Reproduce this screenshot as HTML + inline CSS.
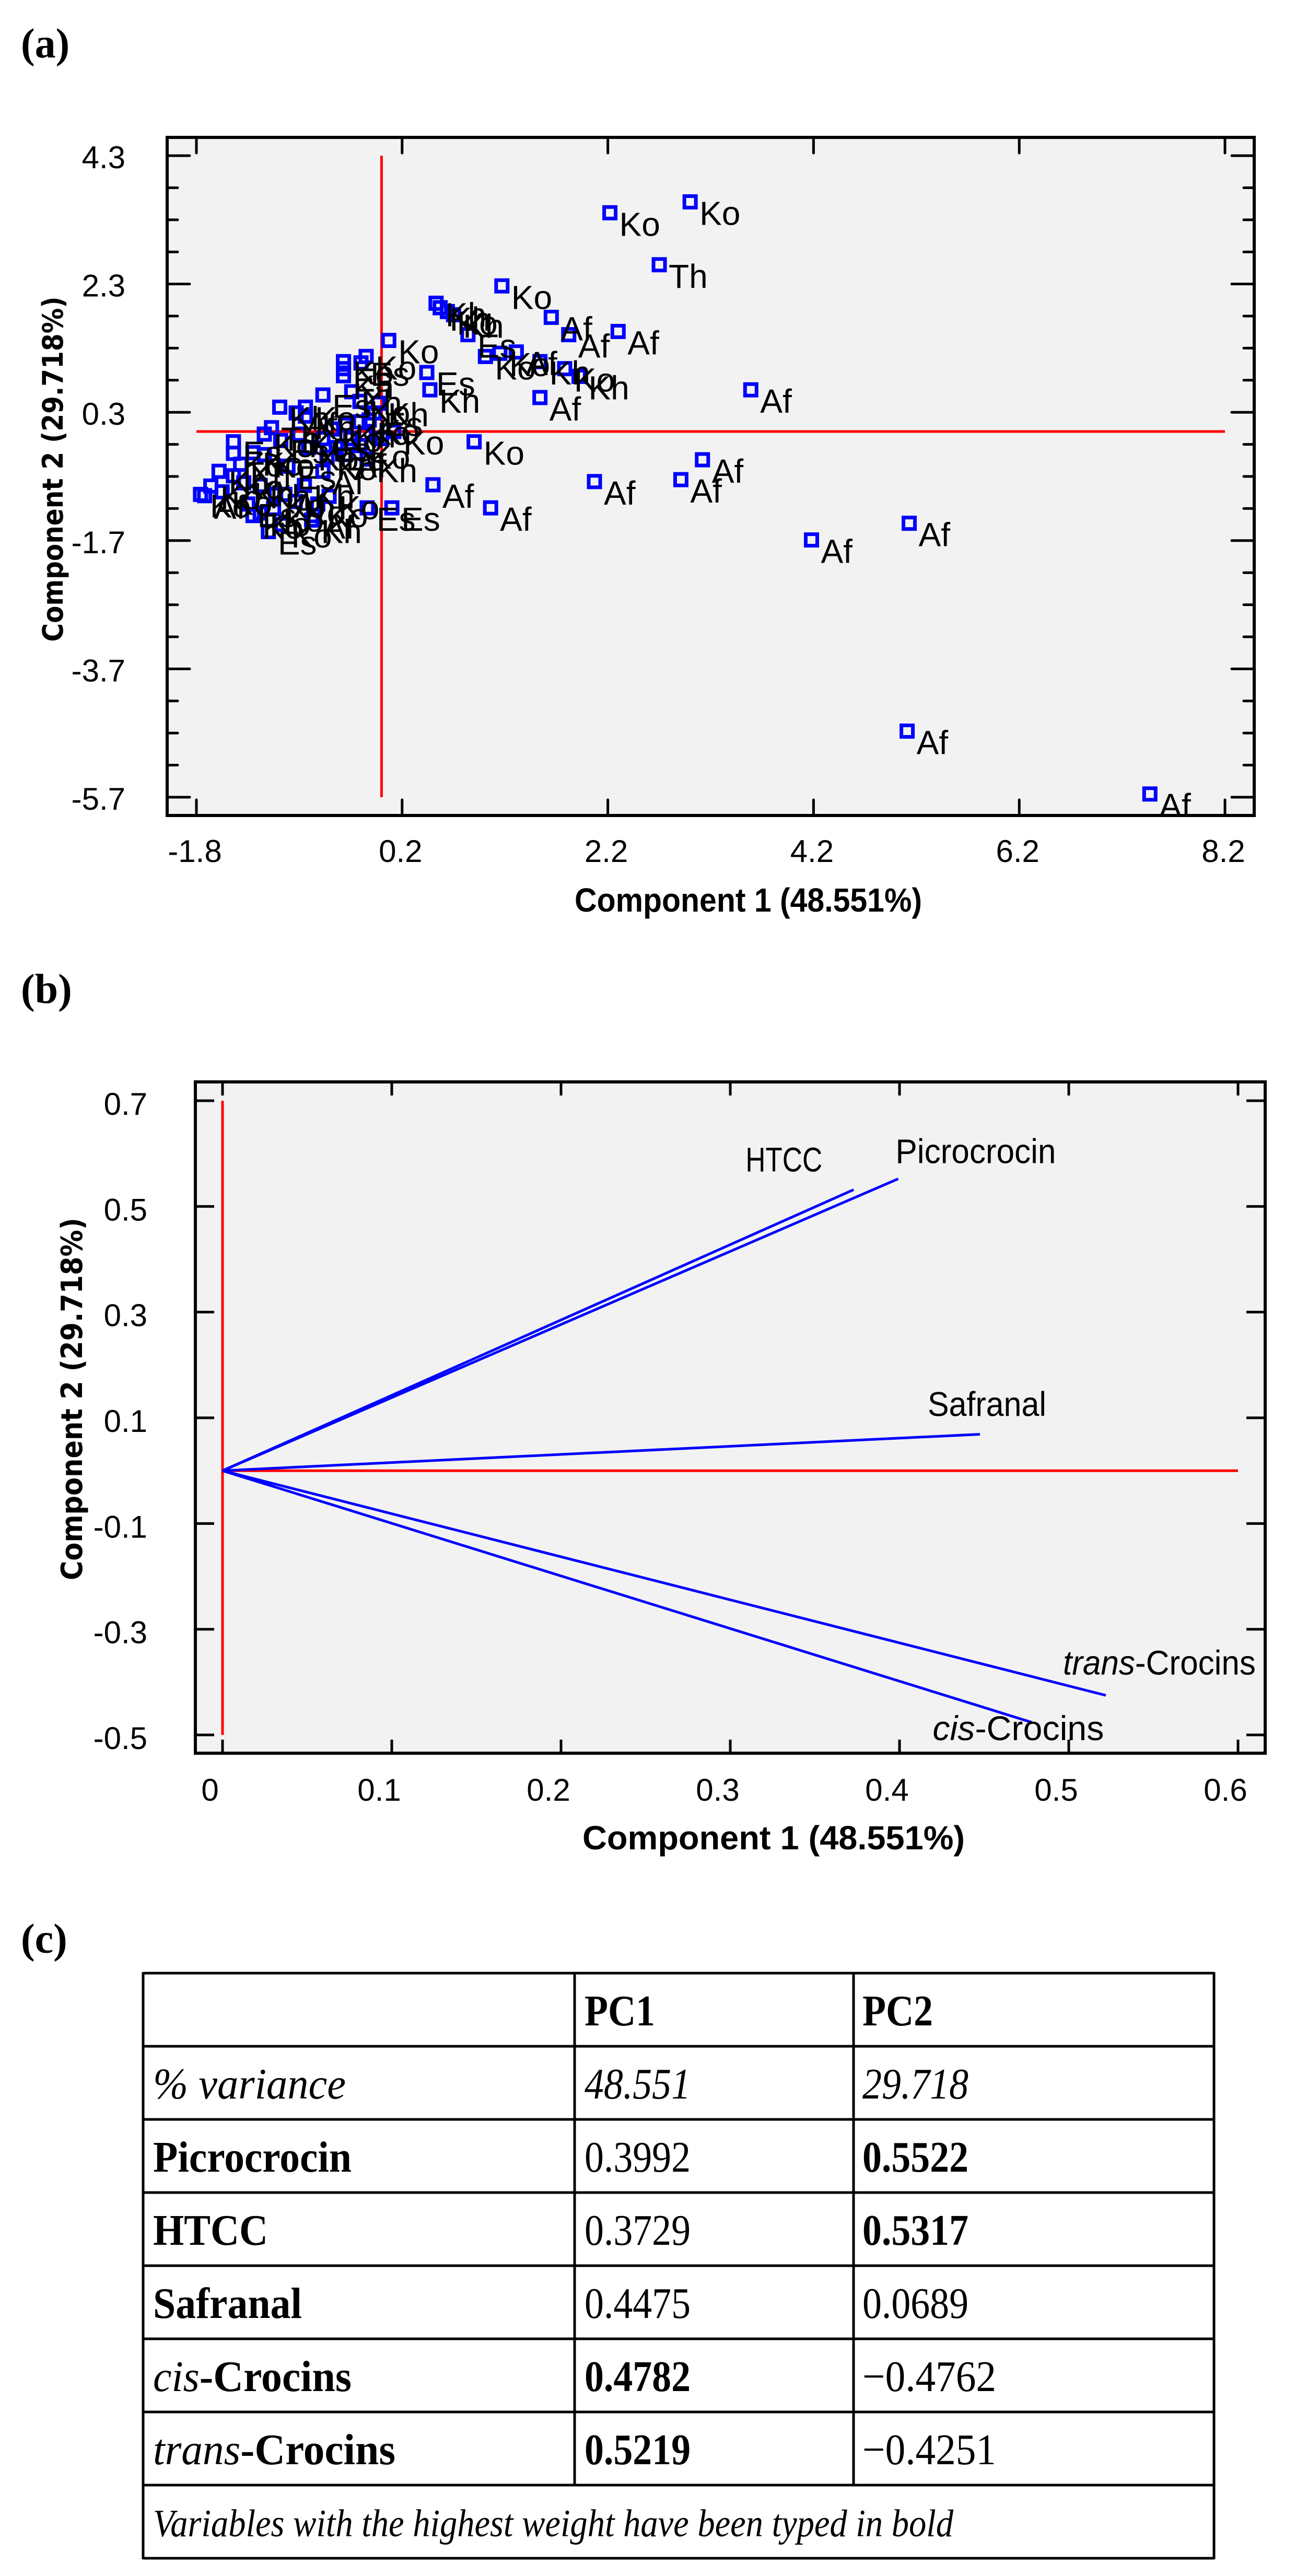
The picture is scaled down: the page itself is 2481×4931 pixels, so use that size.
<!DOCTYPE html>
<html><head><meta charset="utf-8"><title>PCA figure</title>
<style>
html,body{margin:0;padding:0;background:#fff;}
svg{display:block;}
</style></head>
<body>
<svg id="fig" xmlns="http://www.w3.org/2000/svg" width="2481" height="4931" viewBox="0 0 2481 4931">
  <defs>
    <clipPath id="clipA"><rect x="323" y="263" width="2075" height="1298"/></clipPath>
  </defs>
  <text x="40" y="110" font-family="Liberation Serif, serif" font-size="80" font-weight="bold">(a)</text>
  <g id="chartA"></g>
  <text x="40" y="1920" font-family="Liberation Serif, serif" font-size="80" font-weight="bold">(b)</text>
  <g id="chartB"></g>
  <text x="40" y="3738" font-family="Liberation Serif, serif" font-size="80" font-weight="bold">(c)</text>
  <g id="tableC"></g>
</svg>
<script>
// ---------- Chart A data ----------
const scoreLabels = ["Ko","Ko","Th","Ko","Af","Af","Af","Ko","Kh","Kh","Ko","Kh","Es","Ko","Ko","Af","Ko","Kh","Af","Af","Es","Kh","Ko","Af","Af","Af","Af","Af","Af","Af","Af","Af","Es","Es","Ko","Ko","Kh",
 "Ko","Kh","Es","Ko","Es","Kh","Ko","Es","Kh","Ko","Af","Kh","Th","Ko","Es","Ko","Kh","Ko","Af","Ko","Ko","Kh","Ko","Es","Ko","Kh","Af","Ko","Es","Ko","Kh","Ko","Ko","Es","Kh","Ko","Af","Ko","Es","Kh","Ko","Ko","Af","Kh","Ko","Ko","Es","Ko","Kh","Ko","Es","Ko","Ko","Af","Kh","Ko","Es"];
const pc1Scores = [2.22,3.0,2.70,1.17,1.65,1.82,2.30,0.07,0.53,0.57,0.64,0.70,0.84,1.01,1.15,1.31,1.78,1.92,1.54,3.59,0.44,0.47,0.90,3.12,2.07,2.91,0.50,1.06,5.13,4.18,5.11,7.47,0.10,-0.14,-0.51,0.12,1.54,
 -0.37,-0.37,-0.37,-0.15,-0.20,-0.29,-0.21,-0.57,-0.99,-0.74,-0.83,-0.74,-1.07,-1.14,-1.44,-1.44,-1.58,-1.66,-1.72,-1.76,-1.44,-1.34,-1.25,-1.10,-0.97,-0.68,-0.66,-0.71,-0.57,-0.48,-0.35,-0.21,-0.12,-0.07,-0.03,-0.53,-0.35,-0.21,-0.91,-1.18,-1.03,-0.84,-0.57,-0.14,-1.25,-1.14,-0.98,-0.80,-1.37,-1.55,-1.30,-1.18,-1.05,-0.94,-0.75,-0.62,-0.44,-0.30,-0.16,0.00];
const pc2Scores = [3.41,3.58,2.60,2.27,1.78,1.51,1.56,1.42,2.00,1.93,1.87,1.82,1.51,1.17,1.22,1.24,0.98,0.86,0.53,0.65,0.92,0.65,-0.16,-0.44,-0.78,-0.75,-0.83,-1.19,-1.43,-1.69,-4.67,-5.65,-1.19,-1.19,-1.01,0.00,1.09,
 1.09,0.87,0.98,1.17,1.07,0.62,0.47,0.57,0.38,0.38,0.29,0.24,0.06,-0.04,-0.16,-0.34,-0.62,-0.85,-1.00,-0.98,-0.69,-0.80,-1.31,-1.56,-1.45,-1.38,-1.31,-0.25,-0.11,0.04,0.11,0.15,0.18,0.29,0.44,-0.40,-0.36,-0.22,-0.54,-0.84,-0.98,-1.09,-0.62,-0.43,-0.33,-0.36,-0.14,-0.04,-0.51,-0.94,-1.13,-1.27,-1.20,-0.98,-0.84,-1.13,-0.25,-0.11,-0.04,-0.11];
const xTicksA = [-1.8,0.2,2.2,4.2,6.2,8.2];
const xTickLabelsA = ["-1.8","0.2","2.2","4.2","6.2","8.2"];
const yTicksA = [4.3,2.3,0.3,-1.7,-3.7,-5.7];
const yTickLabelsA = ["4.3","2.3","0.3","-1.7","-3.7","-5.7"];

// ---------- Chart B data ----------
const variableNames = ["Picrocrocin","HTCC","Safranal","cis-Crocins","trans-Crocins"];
const pc1Loadings = [0.3992,0.3729,0.4475,0.4782,0.5219];
const pc2Loadings = [0.5522,0.5317,0.0689,-0.4762,-0.4251];
const xTicksB = [0,0.1,0.2,0.3,0.4,0.5,0.6];
const xTickLabelsB = ["0","0.1","0.2","0.3","0.4","0.5","0.6"];
const yTicksB = [0.7,0.5,0.3,0.1,-0.1,-0.3,-0.5];
const yTickLabelsB = ["0.7","0.5","0.3","0.1","-0.1","-0.3","-0.5"];

const NS = "http://www.w3.org/2000/svg";
function mk(tag, attrs, parent){
  const e = document.createElementNS(NS, tag);
  for (const k in attrs) e.setAttribute(k, attrs[k]);
  parent.appendChild(e);
  return e;
}

// ================= Chart A =================
(function(){
  const g = document.getElementById('chartA');
  const X = v => 376 + (v + 1.8) * 196.9;
  const Y = v => 298 + (4.3 - v) * 122.8;
  const L = 320, T = 263, R = 2401, B = 1561;
  const bg = mk('rect', {x:L, y:T, width:R-L, height:B-T, fill:'#f2f2f2'}, g);
  
  
  const rv = mk('line', {x1:X(0), x2:X(0), y1:Y(4.3), y2:Y(-5.7), stroke:'#ff0000', 'stroke-width':5}, g);
  
  
  const rh = mk('line', {x1:X(-1.8), x2:X(8.2), y1:Y(0), y2:Y(0), stroke:'#ff0000', 'stroke-width':5}, g);
  
  
  const pg = mk('g', {'clip-path':'url(#clipA)'}, g);
  for (let i = 0; i < pc1Scores.length; i++) {
    const cx = X(pc1Scores[i]), cy = Y(pc2Scores[i]);
    const r = mk('rect', {x:cx-11, y:cy-11, width:22, height:22, fill:'none', stroke:'#0000ff', 'stroke-width':7}, pg);
    
    
  }
  for (let i = 0; i < pc1Scores.length; i++) {
    const cx = X(pc1Scores[i]), cy = Y(pc2Scores[i]);
    const t = mk('text', {x:cx+18, y:cy+44, 'font-family':'Liberation Sans, sans-serif', 'font-size':64, fill:'#000'}, pg);
    t.textContent = scoreLabels[i];
    
    
  }
  for (let v = 4.3; v >= -5.71; v -= 0.5) {
    const y = Y(v);
    const major = Math.abs(((4.3 - v) / 2) - Math.round((4.3 - v) / 2)) < 0.01;
    const len = major ? 43 : 20;
    const a = mk('line', {x1:L, x2:L+len, y1:y, y2:y, stroke:'#000', 'stroke-width':5, 'stroke-linecap':'round'}, g);
    
    
    const b = mk('line', {x1:R, x2:R-len, y1:y, y2:y, stroke:'#000', 'stroke-width':5, 'stroke-linecap':'round'}, g);
    
    
  }
  yTicksA.forEach((v, i) => {
    const t = mk('text', {x:240, y:Y(v)+24, 'text-anchor':'end', 'font-family':'Liberation Sans, sans-serif', 'font-size':60}, g);
    t.textContent = yTickLabelsA[i];
    
    
  });
  xTicksA.forEach((v, i) => {
    const x = X(v);
    const a = mk('line', {x1:x, x2:x, y1:T, y2:T+30, stroke:'#000', 'stroke-width':5, 'stroke-linecap':'round'}, g);
    
    
    const b = mk('line', {x1:x, x2:x, y1:B, y2:B-30, stroke:'#000', 'stroke-width':5, 'stroke-linecap':'round'}, g);
    
    
    const t = mk('text', {x:x-3, y:1650, 'text-anchor':'middle', 'font-family':'Liberation Sans, sans-serif', 'font-size':60}, g);
    t.textContent = xTickLabelsA[i];
    
    
  });
  const fr = mk('rect', {x:L, y:T, width:R-L, height:B-T, fill:'none', stroke:'#000', 'stroke-width':6}, g);
  
  
  const xt = mk('text', {x:1100, y:1745, 'font-family':'Liberation Sans, sans-serif', 'font-size':64, 'font-weight':'bold', textLength:665, lengthAdjust:'spacingAndGlyphs'}, g);
  xt.textContent = 'Component 1 (48.551%)';
  
  
  const yt = mk('text', {x:0, y:0, 'text-anchor':'middle', transform:'translate(120,898) rotate(-90)', 'font-family':'DejaVu Sans, sans-serif', 'font-size':54, 'font-weight':'bold', textLength:661, lengthAdjust:'spacingAndGlyphs'}, g);
  yt.textContent = 'Component 2 (29.718%)';
  
  
})();

// ================= Chart B =================
(function(){
  const g = document.getElementById('chartB');
  const X = v => 426 + v * 3240;
  const Y = v => 2107 + (0.7 - v) * 1011.7;
  const L = 374, T = 2071, R = 2422, B = 3356;
  const bg = mk('rect', {x:L, y:T, width:R-L, height:B-T, fill:'#f2f2f2'}, g);
  
  
  const rv = mk('line', {x1:X(0), x2:X(0), y1:Y(0.7), y2:Y(-0.5), stroke:'#ff0000', 'stroke-width':5}, g);
  
  
  const rh = mk('line', {x1:X(0), x2:X(0.6), y1:Y(0), y2:Y(0), stroke:'#ff0000', 'stroke-width':5}, g);
  
  
  const labelPos = [
    {dx:-5, dy:-30, anchor:'start', len:307},
    {dx:-60, dy:-35, anchor:'end', len:147},
    {dx:-100, dy:-35, anchor:'start', len:227},
    {dx:-190, dy:34, anchor:'start', len:328},
    {dx:-82, dy:-40, anchor:'start', len:369}
  ];
  for (let i = 0; i < variableNames.length; i++) {
    const x2 = X(pc1Loadings[i]), y2 = Y(pc2Loadings[i]);
    const ln = mk('line', {x1:X(0), y1:Y(0), x2:x2, y2:y2, stroke:'#0000ff', 'stroke-width':5}, g);
    
    
    const p = labelPos[i];
    const t = mk('text', {x:x2+p.dx, y:y2+p.dy, 'text-anchor':p.anchor, 'font-family':'Liberation Sans, sans-serif', 'font-size':66, textLength:p.len, lengthAdjust:'spacingAndGlyphs'}, g);
    const name = variableNames[i];
    if (name.indexOf('-') > 0) {
      const parts = name.split('-');
      const s1 = mk('tspan', {'font-style':'italic'}, t); s1.textContent = parts[0];
      const s2 = mk('tspan', {}, t); s2.textContent = '-' + parts[1];
    } else {
      t.textContent = name;
    }
    
    
  }
  yTicksB.forEach((v, i) => {
    const y = Y(v);
    const a = mk('line', {x1:L, x2:L+36, y1:y, y2:y, stroke:'#000', 'stroke-width':5}, g);
    
    
    const b = mk('line', {x1:R, x2:R-36, y1:y, y2:y, stroke:'#000', 'stroke-width':5}, g);
    
    
    const t = mk('text', {x:282, y:y+27, 'text-anchor':'end', 'font-family':'Liberation Sans, sans-serif', 'font-size':60}, g);
    t.textContent = yTickLabelsB[i];
    
    
  });
  xTicksB.forEach((v, i) => {
    const x = X(v);
    const a = mk('line', {x1:x, x2:x, y1:T, y2:T+26, stroke:'#000', 'stroke-width':5}, g);
    
    
    const b = mk('line', {x1:x, x2:x, y1:B, y2:B-26, stroke:'#000', 'stroke-width':5}, g);
    
    
    const t = mk('text', {x:x-24, y:3447, 'text-anchor':'middle', 'font-family':'Liberation Sans, sans-serif', 'font-size':60}, g);
    t.textContent = xTickLabelsB[i];
    
    
  });
  const fr = mk('rect', {x:L, y:T, width:R-L, height:B-T, fill:'none', stroke:'#000', 'stroke-width':6}, g);
  
  
  const xt = mk('text', {x:1115, y:3540, 'font-family':'Liberation Sans, sans-serif', 'font-size':64, 'font-weight':'bold', textLength:732, lengthAdjust:'spacingAndGlyphs', 'xml:space':'preserve'}, g);
  xt.textContent = 'Component  1 (48.551%)';
  
  
  const yt = mk('text', {x:0, y:0, 'text-anchor':'middle', transform:'translate(157,2678) rotate(-90)', 'font-family':'DejaVu Sans, sans-serif', 'font-size':56, 'font-weight':'bold', textLength:694, lengthAdjust:'spacingAndGlyphs'}, g);
  yt.textContent = 'Component 2 (29.718%)';
  
  
})();

// ================= Table C =================
(function(){
  const g = document.getElementById('tableC');
  const L = 274, R = 2324, top = 3777, rowH = 140, nRows = 8;
  const c1 = 1100, c2 = 1634;
  const lw = 5;
  for (let r = 0; r <= nRows; r++) {
    const y = top + r * rowH;
    const ln = mk('line', {x1:L, x2:R, y1:y, y2:y, stroke:'#000', 'stroke-width':lw}, g);
    
    
  }
  [L, R].forEach(x => {
    const ln = mk('line', {x1:x, x2:x, y1:top-2, y2:top+nRows*rowH+2, stroke:'#000', 'stroke-width':lw}, g);
    
    
  });
  [c1, c2].forEach(x => {
    const ln = mk('line', {x1:x, x2:x, y1:top, y2:top+7*rowH, stroke:'#000', 'stroke-width':lw}, g);
    
    
  });
  const rows = [
    [["",false,false,0],["PC1",true,false,135],["PC2",true,false,135]],
    [["% variance",false,true,369],["48.551",false,true,203],["29.718",false,true,203]],
    [["Picrocrocin",true,false,380],["0.3992",false,false,203],["0.5522",true,false,203]],
    [["HTCC",true,false,220],["0.3729",false,false,203],["0.5317",true,false,203]],
    [["Safranal",true,false,285],["0.4475",false,false,203],["0.0689",false,false,203]],
    [["cis-Crocins",true,false,380],["0.4782",true,false,203],["\u22120.4762",false,false,256]],
    [["trans-Crocins",true,false,464],["0.5219",true,false,203],["\u22120.4251",false,false,256]]
  ];
  const xs = [293, 1119, 1651];
  rows.forEach((row, r) => {
    row.forEach((cell, c) => {
      if (!cell[0]) return;
      const attrs = {x:xs[c], y:top + r*rowH + 100, 'font-family':'Liberation Serif, serif', 'font-size':84, textLength:cell[3], lengthAdjust:'spacingAndGlyphs'};
      if (cell[1]) attrs['font-weight'] = 'bold';
      if (cell[2]) attrs['font-style'] = 'italic';
      const t = mk('text', attrs, g);
      const txt = cell[0];
      if (c === 0 && (txt.startsWith('cis-') || txt.startsWith('trans-'))) {
        const parts = txt.split('-');
        const s1 = mk('tspan', {'font-style':'italic', 'font-weight':'normal'}, t); s1.textContent = parts[0];
        const s2 = mk('tspan', {}, t); s2.textContent = '-' + parts[1];
      } else {
        t.textContent = txt;
      }
      
      
    });
  });
  const foot = mk('text', {x:293, y:top + 7*rowH + 98, 'font-family':'Liberation Serif, serif', 'font-size':74, 'font-style':'italic', textLength:1532, lengthAdjust:'spacingAndGlyphs'}, g);
  foot.textContent = 'Variables with the highest weight have been typed in bold';
  
  
})();
</script>
</body></html>
